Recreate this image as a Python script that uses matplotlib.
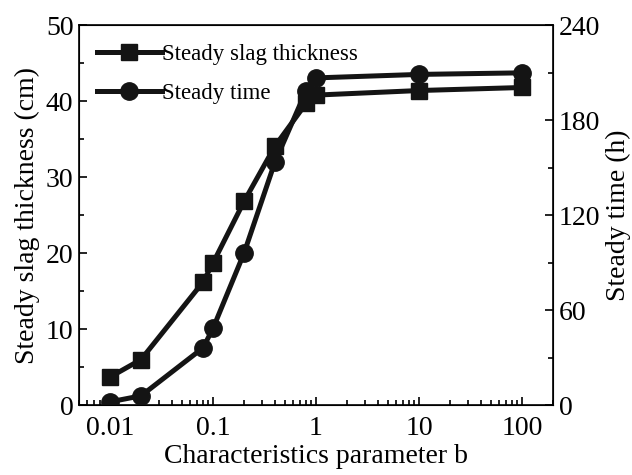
import numpy as np
import matplotlib.pyplot as plt
from matplotlib.ticker import FixedLocator, NullFormatter, LogLocator

b = [0.01, 0.02, 0.08, 0.1, 0.2, 0.4, 0.8, 1, 10, 100]
thickness = [3.7, 6.0, 16.2, 18.7, 26.8, 34.1, 39.7, 40.8, 41.4, 41.8]
steady_time = [2.1, 5.9, 36.2, 48.5, 96.0, 153.7, 198.5, 206.7, 208.9, 209.9]

plt.rcParams['font.family'] = ['Liberation Serif', 'DejaVu Serif']

fig = plt.figure(figsize=(6.32, 4.75), dpi=100)
ax = fig.add_axes([0.125, 0.147, 0.75, 0.8])
ax2 = ax.twinx()

l1, = ax.plot(b, thickness, color='#141414', lw=3.6, marker='s', ms=11.5,
              label='Steady slag thickness')
l2, = ax2.plot(b, steady_time, color='#141414', lw=3.6, marker='o', ms=12.5,
               label='Steady time')

ax.set_xscale('log')
ax.set_xlim(0.005, 200)
ax.set_ylim(0, 50)
ax2.set_ylim(0, 240)

ax.set_xticks([0.01, 0.1, 1, 10, 100])
ax.set_xticklabels(['0.01', '0.1', '1', '10', '100'])
ax.xaxis.set_minor_locator(LogLocator(base=10, subs=np.arange(2, 10)))
ax.xaxis.set_minor_formatter(NullFormatter())

ax.set_yticks([0, 10, 20, 30, 40, 50])
ax.yaxis.set_minor_locator(FixedLocator([5, 15, 25, 35, 45]))
ax2.set_yticks([0, 60, 120, 180, 240])
ax2.yaxis.set_minor_locator(FixedLocator([30, 90, 150, 210]))

for a in (ax, ax2):
    a.tick_params(which='both', direction='in', labelsize=20, width=1.2)
    a.tick_params(which='major', length=6)
    a.tick_params(which='minor', length=3.5)
ax.tick_params(axis='x', pad=8)
ax.tick_params(axis='y', pad=4)
ax2.tick_params(axis='y', pad=4)
for s in ax.spines.values():
    s.set_linewidth(1.2)

ax.set_xlabel('Characteristics parameter b', fontsize=20, labelpad=2)
ax.set_ylabel('Steady slag thickness (cm)', fontsize=20, labelpad=4)
ax2.set_ylabel('Steady time (h)', fontsize=20, labelpad=4)

ax.legend([l1, l2], ['Steady slag thickness', 'Steady time'], loc='upper left',
          frameon=False, fontsize=16.5, handlelength=2.8, handletextpad=0.0,
          borderaxespad=0.4, labelspacing=0.8)

fig.savefig('out.png', dpi=100)
